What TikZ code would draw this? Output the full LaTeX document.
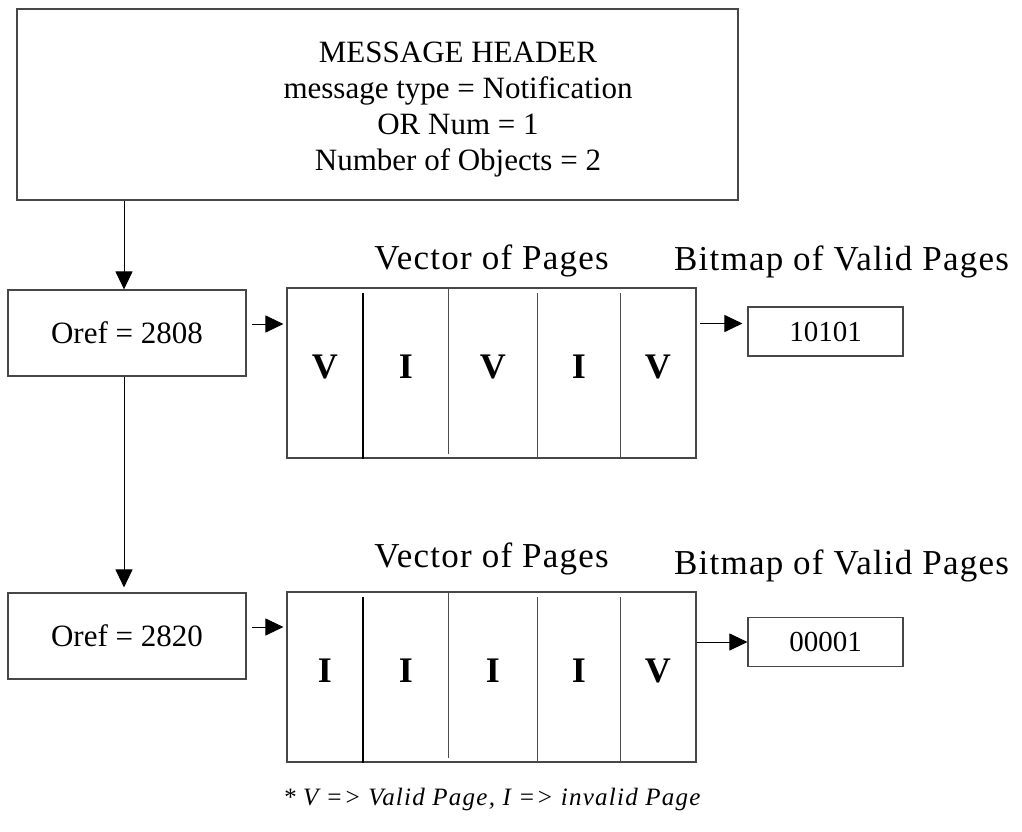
\documentclass[tikz,border=0pt]{standalone}
\usepackage{fontspec}
\setmainfont{Liberation Serif}
\usetikzlibrary{arrows.meta,calc}
\newcommand{\XOref}{127}
\newcommand{\XVec}{491.5}
\newcommand{\XBits}{825.5}
\newcommand{\XBitsTitle}{841.5}
\newcommand{\VecWidth}{409pt}
\newcommand{\VecHeight}{170pt}
\colorlet{boxStroke}{black!72}
\colorlet{divStroke}{black!70}
\newcommand{\PageVector}[3]{%
  % #1 name, #2 centre y, #3 page letters
  \node[vecbox] (#1) at (\XVec,#2) {};
  \draw[thickdiv] ($(#1.south west)+(77,0)$) -- ($(#1.north west)+(77,6)$);
  \draw[thindiv] ($(#1.south west)+(162,-5)$) -- ($(#1.north west)+(162,2)$);
  \foreach \dx in {251,334}{%
    \draw[thindiv] ($(#1.south west)+(\dx,0)$) -- ($(#1.north west)+(\dx,6)$);
  }%
  \foreach \l [count=\i] in {#3}{%
    \pgfmathsetmacro{\cx}{{38.5,119.5,206.5,292.5,371.5}[\i-1]}
    \node[page] (#1p\i) at ($(#1.west)+(\cx,-6)$) {\l};
  }%
}

\begin{document}
\begin{tikzpicture}[
  x=1pt,y=-1pt,
  >={Triangle[length=18pt,width=17pt]},
  arr/.style={->,line width=1pt},
  box/.style={draw=boxStroke,line width=1.1pt,inner sep=0pt},
  hdrbox/.style={box,minimum width=721pt,minimum height=191pt},
  orefbox/.style={box,minimum width=238pt,minimum height=86pt,font=\fontsize{31}{36}\selectfont},
  vecbox/.style={box,minimum width=\VecWidth,minimum height=\VecHeight},
  bitbox/.style={box,minimum width=155pt,minimum height=49pt,font=\fontsize{29}{34}\selectfont},
  thickdiv/.style={line width=2pt,black},
  thindiv/.style={line width=1pt,divStroke},
  page/.style={font=\fontsize{36}{40}\selectfont\bfseries},
  title/.style={anchor=base,inner sep=0pt,font=\fontsize{35}{40}\selectfont\addfontfeature{LetterSpace=3.5}},
  hdrtext/.style={align=center,inner sep=0pt,font=\fontsize{31}{36}\selectfont},
  note/.style={anchor=base west,inner sep=0pt,font=\fontsize{25}{28}\selectfont\itshape\addfontfeature{LetterSpace=5}}
]
\useasboundingbox (0,0) rectangle (1022,832);

% Header
\node[hdrbox] (hdr) at (377.5,104.5) {};
\node[hdrtext] (hdrtxt) at (458,110) {MESSAGE HEADER\\message type = Notification\\OR Num = 1\\Number of Objects = 2};

% Object references
\node[orefbox] (oref1) at (\XOref,333) {Oref = 2808};
\node[orefbox] (oref2) at (\XOref,636) {Oref = 2820};

% Page vectors
\PageVector{vec1}{373}{V,I,V,I,V}
\PageVector{vec2}{677}{I,I,I,I,V}

\node[title] (vt1) at ($(vec1.north)+(0,-18)$) {Vector of Pages};
\node[title] (vt2) at ($(vec2.north)+(0,-24)$) {Vector of Pages};

% Bitmaps
\node[bitbox] (bm1) at (\XBits,331.5) {10101};
\node[bitbox] (bm2) at (\XBits,642) {00001};
\node[title] (bt1) at (\XBitsTitle,270) {Bitmap of Valid Pages};
\node[title] (bt2) at (\XBitsTitle,574) {Bitmap of Valid Pages};

% Arrows
\draw[arr] ([xshift=-3pt]hdr.south -| oref1.north) -- ([xshift=-3pt]oref1.north);
\draw[arr,shorten >=5pt] ([xshift=-3pt]oref1.south) -- ([xshift=-3pt]oref2.north);
\draw[arr] ([xshift=5pt,yshift=9pt]oref1.east) -- ([xshift=-3pt,yshift=9pt]oref1.east -| vec1.west);
\draw[arr] ([xshift=5pt,yshift=9pt]oref2.east) -- ([xshift=-3pt,yshift=9pt]oref2.east -| vec2.west);
\draw[arr] ([xshift=3pt,yshift=8pt]vec1.east |- bm1.west) -- ([xshift=-5pt,yshift=8pt]bm1.west);
\draw[arr] (vec2.east |- bm2.west) -- (bm2.west);

% Footnote
\node[note] (legend) at (283,805) {* V => Valid Page, I => invalid Page};

\end{tikzpicture}
\end{document}
